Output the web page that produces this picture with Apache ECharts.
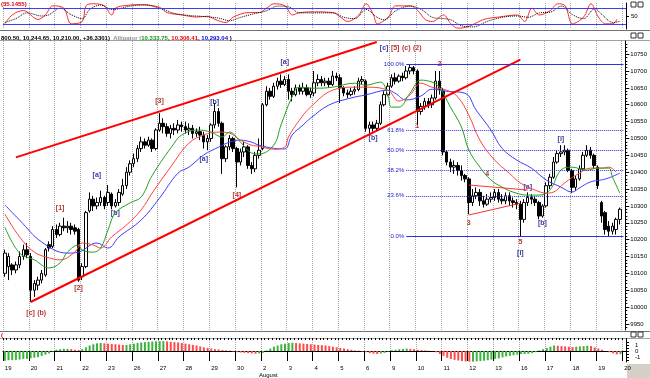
<!DOCTYPE html>
<html>
<head>
<meta charset="utf-8">
<script src="https://cdn.jsdelivr.net/npm/echarts@6/dist/echarts.min.js"></script>
<style>html,body{margin:0;padding:0;background:#fff}#main{width:650px;height:378px}</style>
</head>
<body>
<div id="main"></div>
<script type="text/javascript">
var myChart = echarts.init(document.getElementById('main'));

// trading days (7 hourly bars each), last one has no data yet
var days = ['19','20','21','22','23','26','27','28','29','30','2','3','4','5','6','9','10','11','12','13','16','17','18','19','20'];
var BARS = 7;

// hourly OHLC, one row per day
var open = [
  10100,10120,10125,10110,10125,10150,10170, 10150,10050,10065,10080,10095,10185,10180,
  10230,10215,10240,10235,10240,10235,10230, 10090,10120,10285,10320,10300,10310,10325,
  10310,10335,10300,10310,10335,10360,10400, 10425,10440,10470,10490,10480,10495,10470,
  10525,10545,10535,10515,10530,10525,10540, 10535,10525,10530,10515,10520,10510,10490,
  10500,10540,10580,10545,10440,10475,10500, 10470,10430,10460,10475,10420,10410,10450,
  10470,10600,10640,10625,10655,10670,10660, 10675,10640,10630,10650,10640,10650,10630,
  10635,10665,10675,10665,10670,10660,10685, 10680,10650,10635,10630,10640,10645,10670,
  10670,10530,10540,10530,10545,10600,10630, 10655,10680,10670,10685,10680,10700,10710,
  10700,10580,10595,10610,10600,10620,10670, 10640,10460,10430,10415,10420,10405,10390,
  10380,10310,10330,10340,10315,10305,10320, 10325,10340,10320,10315,10330,10315,10310,
  10305,10260,10310,10325,10320,10310,10270, 10300,10360,10385,10430,10455,10460,10465,
  10405,10355,10380,10410,10450,10465,10450, 10415,10310,10280,10240,10225,10230,10260
];
var close = [
  10160,10150,10110,10125,10150,10170,10155, 10050,10070,10080,10100,10170,10175,10230,
  10215,10240,10235,10240,10230,10225,10080, 10120,10280,10320,10300,10310,10325,10300,
  10340,10300,10310,10340,10360,10400,10425, 10440,10470,10490,10480,10495,10470,10525,
  10545,10535,10515,10530,10525,10540,10535, 10525,10530,10515,10520,10510,10490,10500,
  10540,10580,10545,10440,10475,10500,10470, 10430,10460,10475,10420,10410,10450,10465,
  10600,10640,10625,10655,10670,10660,10675, 10640,10630,10650,10640,10650,10630,10640,
  10665,10675,10665,10670,10660,10685,10680, 10650,10635,10630,10640,10645,10670,10675,
  10530,10540,10530,10545,10600,10630,10655, 10680,10670,10685,10680,10700,10710,10700,
  10580,10595,10610,10600,10620,10670,10645, 10460,10430,10415,10420,10405,10390,10380,
  10310,10330,10340,10315,10305,10320,10325, 10340,10320,10315,10330,10315,10310,10305,
  10260,10310,10325,10320,10310,10270,10300, 10360,10385,10430,10455,10460,10465,10405,
  10355,10380,10410,10450,10465,10450,10420, 10360,10270,10230,10225,10240,10260,10290
];
var low = [
  10090,10080,10095,10100,10115,10140,10145, 10015,10030,10050,10070,10090,10165,10175,
  10205,10210,10225,10220,10215,10215,10075, 10080,10115,10280,10285,10290,10300,10290,
  10300,10290,10295,10300,10330,10350,10390, 10415,10430,10460,10470,10475,10460,10465,
  10520,10515,10505,10500,10510,10515,10520, 10515,10510,10500,10505,10495,10470,10465,
  10490,10530,10535,10395,10430,10465,10460, 10355,10420,10445,10410,10395,10400,10440,
  10465,10595,10615,10620,10645,10650,10655, 10615,10610,10625,10630,10630,10625,10620,
  10625,10655,10655,10655,10650,10655,10670, 10605,10625,10620,10625,10630,10640,10660,
  10520,10515,10520,10525,10540,10595,10625, 10650,10660,10665,10670,10675,10690,10690,
  10540,10570,10585,10590,10590,10615,10630, 10450,10420,10400,10395,10390,10375,10370,
  10275,10300,10320,10300,10295,10300,10310, 10315,10310,10305,10305,10300,10295,10290,
  10210,10250,10300,10305,10300,10260,10265, 10295,10350,10380,10425,10445,10450,10400,
  10338,10345,10375,10405,10445,10440,10410, 10350,10250,10215,10210,10215,10215,10245
];
var high = [
  10170,10160,10130,10135,10165,10185,10190, 10160,10080,10090,10110,10175,10195,10240,
  10245,10250,10265,10255,10250,10245,10235, 10130,10285,10340,10330,10325,10345,10330,
  10362,10340,10320,10350,10380,10415,10435, 10455,10480,10505,10500,10505,10500,10530,
  10575,10560,10545,10540,10545,10555,10550, 10550,10545,10540,10530,10535,10520,10510,
  10545,10605,10590,10550,10480,10510,10505, 10475,10470,10490,10480,10430,10460,10500,
  10605,10655,10650,10665,10680,10690,10685, 10690,10650,10660,10660,10665,10660,10650,
  10700,10690,10685,10680,10680,10700,10695, 10690,10655,10645,10650,10655,10680,10685,
  10675,10550,10550,10555,10610,10640,10665, 10690,10695,10690,10695,10715,10720,10715,
  10705,10605,10620,10620,10630,10700,10700, 10650,10465,10440,10435,10430,10420,10395,
  10385,10350,10355,10350,10330,10335,10340, 10350,10350,10335,10340,10340,10325,10320,
  10315,10320,10340,10335,10330,10315,10305, 10370,10395,10445,10465,10480,10480,10470,
  10410,10390,10420,10460,10480,10475,10455, 10420,10315,10285,10255,10250,10265,10295
];

// Alligator lines, read at the bar index given in the *At arrays
var jawAt = [0,4,10,17,20,25,28,31,37,42,47,50,54,58,61,64,67,69,73,76,78,81,83,88,94,98,104,106,109,113,116,120,125,128,132,135,139,143,147,151,154,156,159,162,164,167];
var jaw = [10303,10258,10193,10160,10163,10190,10175,10208,10258,10323,10397,10415,10451,10474,10489,10495,10489,10480,10471,10469,10510,10540,10560,10599,10620,10629,10643,10634,10614,10626,10646,10640,10634,10584,10525,10471,10436,10412,10377,10356,10341,10353,10371,10377,10383,10397];
var teethAt = [0,4,8,12,15,19,21,24,26,29,33,37,40,45,50,54,58,61,64,67,69,73,76,77,80,83,89,95,98,104,107,110,113,116,120,123,126,129,133,137,140,144,147,149,152,156,159,162,164,166];
var teeth = [10276,10208,10163,10146,10140,10163,10190,10184,10175,10208,10243,10288,10338,10415,10486,10510,10519,10516,10495,10480,10477,10468,10474,10504,10554,10593,10643,10652,10652,10643,10611,10629,10664,10652,10643,10623,10569,10495,10436,10397,10368,10347,10338,10341,10368,10397,10412,10412,10415,10400];
var lipsAt = [0,4,8,12,15,17,20,21,24,26,28,30,34,37,40,46,48,52,56,59,61,64,67,69,73,75,78,80,84,89,95,98,102,104,105,107,110,113,116,118,121,124,126,129,132,135,138,142,145,148,151,154,158,161,164,165,167];
var lips = [10237,10160,10140,10116,10131,10163,10184,10169,10163,10175,10228,10279,10309,10326,10390,10486,10510,10525,10519,10504,10519,10489,10457,10454,10480,10540,10623,10652,10649,10652,10664,10658,10667,10629,10593,10593,10634,10673,10667,10652,10593,10534,10466,10415,10377,10356,10341,10332,10332,10347,10406,10415,10406,10412,10412,10386,10338];

// stochastic (top panel)
var kAt = [0,2,5,9,11,13,16,18,21,22,24,27,29,30,32,37,42,44,48,52,55,57,60,62,66,69,71,73,76,78,80,84,89,91,93,96,98,100,101,104,106,110,112,114,116,119,121,123,126,130,134,139,141,143,145,148,150,152,154,157,159,161,163,165,166];
var kVal = [20,54,71,37,54,89,80,20,29,89,97,89,54,80,89,94,83,63,54,46,49,37,25,46,63,63,80,97,89,54,63,66,63,46,29,54,97,54,20,46,89,89,71,37,29,54,20,3,11,37,46,54,29,80,54,71,97,89,20,46,97,46,20,20,37];
var dAt = [0,3,6,10,12,15,18,21,23,26,29,31,34,38,43,46,50,54,58,61,64,68,71,74,77,80,84,89,92,95,98,101,103,106,110,113,116,119,121,124,127,131,135,139,142,145,148,151,154,157,160,162,165,167];
var dVal = [25,40,62,50,55,80,55,40,75,92,75,78,88,92,75,60,52,48,42,32,45,60,70,88,85,62,62,62,45,40,75,45,35,70,88,75,45,40,35,12,8,30,45,50,45,62,65,88,55,40,78,55,25,30];

// awesome oscillator (bottom panel), one value per bar
var ao = [
  -1.6,-1.5,-1.5,-1.45,-1.4,-1.3,-1.3,-1.2,-1.1,-1.0,-0.8,-0.6,-0.4,
  -0.1,0.2,0.3,0.35,0.35,0.3,0.2,0.15,
  0.3,0.6,0.9,1.1,1.25,1.3,
  1.25,1.2,1.15,1.1,1.05,1.0,1.0,
  1.1,1.2,1.3,1.4,1.45,1.5,1.55,1.6,1.6,1.6,1.55,
  1.5,1.45,1.4,1.3,1.2,1.1,
  1.0,0.9,0.75,0.6,0.5,0.4,0.3,0.25,
  0.15,0.1,0.05,-0.1,-0.2,-0.25,
  -0.3,-0.35,-0.4,-0.45,-0.4,-0.3,
  0.1,0.4,0.7,0.9,1.1,1.2,1.3,1.35,
  1.3,1.25,1.2,1.15,1.1,1.05,1.0,0.95,0.9,0.8,0.7,0.6,
  0.5,0.4,0.3,0.2,0.1,0.05,
  -0.1,-0.2,-0.35,-0.45,-0.5,-0.4,-0.3,
  -0.1,0.1,0.2,0.3,0.35,0.4,0.35,
  0.3,0.2,0.15,0.1,0.05,0.0,
  -0.2,-0.5,-0.8,-1.1,-1.3,
  -1.45,-1.55,-1.65,-1.7,-1.75,-1.75,-1.7,
  -1.65,-1.6,-1.5,-1.4,-1.3,-1.2,-1.05,-0.9,-0.8,-0.7,
  -0.6,-0.5,-0.5,-0.45,-0.35,
  -0.2,0.1,0.3,0.5,0.7,0.9,
  0.85,0.8,0.75,0.7,0.65,
  0.7,0.75,0.8,0.85,0.8,
  0.6,0.4,0.2,0.0,-0.2,-0.4,-0.55,-0.5
];

// fibonacci retracement of the Aug 9 high / Aug 16 low
var fibLabels = ['100.0%','61.8%','50.0%','38.2%','23.6%','0.0%'];
var fibPrices = [10720,10525,10465,10405,10330,10210];

// wave labels
var redText = ['[c]','(b)','[1]','[2]','[3]','[4]','[5]','(c)','(2)','1','2','3','4','5'];
var redAt = [7,10,15,20,42,63,106,109,112,112,118,126,131,140];
var redPrice = [9982,9982,10294,10057,10611,10332,10768,10768,10768,10537,10720,10249,10394,10193];
var blueText = ['[a]','[b]','[a]','[b]','[a]','[b]','[c]','[i]','[a]','[b]','[i]'];
var blueAt = [25,30,54,57,76,100,103,140,142,146,151];
var bluePrice = [10391,10279,10439,10608,10726,10501,10768,10160,10356,10249,10498];

var priceTicks = [];
for (var p = 9950; p <= 10750; p += 50) priceTicks.push(p);
var priceMinor = [];
for (var q = 9940; q <= 10780; q += 10) priceMinor.push(q);

var categories = [];
days.forEach(function (d, i) {
  var n = i < days.length - 1 ? BARS : 1;
  for (var h = 0; h < n; h++) categories.push(i + ':' + h);
});
var candles = open.map(function (o, i) { return [o, close[i], low[i], high[i]]; });
function pairs(at, v) { return at.map(function (x, i) { return [x, v[i]]; }); }
function notes(txt, at, pr) { return txt.map(function (t, i) { return { name: t, value: [at[i], pr[i]] }; }); }
function dayStart(index, value) { return String(value).split(':')[1] === '0'; }
function plain(v) { return String(v); }

var FONT = 'Liberation Sans';
var redLine = { color: '#ff0000', width: 2, type: 'solid' };
var thinRed = { color: '#ff3030', width: 1, type: 'solid' };
var fibLines = fibLabels.map(function (t, i) {
  var solid = i === 0 || i === fibLabels.length - 1;
  return [{
    coord: [109, fibPrices[i]],
    lineStyle: { color: '#3030e0', width: 1, type: solid ? 'solid' : 'dotted' },
    label: { show: true, position: 'start', formatter: t, color: '#2020d0', fontSize: 6, fontFamily: FONT, distance: 2 }
  }, { coord: [168, fibPrices[i]] }];
});

function xAxisFor(grid) {
  return {
    type: 'category', gridIndex: grid, data: categories, boundaryGap: true,
    axisLine: { show: false }, axisTick: { show: false }, axisLabel: { show: false },
    splitLine: { show: true, interval: dayStart, lineStyle: { color: '#a8a8a8', type: 'dotted', width: 1 } }
  };
}
var bottomAxis = xAxisFor(2);
bottomAxis.axisLine = { show: true, lineStyle: { color: '#000', width: 1 } };
bottomAxis.axisTick = { show: true, interval: dayStart, length: 10, lineStyle: { color: '#000' } };
bottomAxis.axisLabel = {
  show: true, interval: dayStart, align: 'left', margin: 3, fontSize: 6, fontFamily: FONT, color: '#000',
  formatter: function (v) {
    var i = +String(v).split(':')[0];
    return i === 10 ? days[i] + '\n{m|August}' : days[i];
  },
  rich: { m: { fontSize: 6, fontFamily: FONT, color: '#000', padding: [1, 0, 0, -4] } }
};
var minorAxis = {
  type: 'category', gridIndex: 2, data: categories, boundaryGap: true,
  axisLine: { show: false }, axisLabel: { show: false }, splitLine: { show: false },
  axisTick: { show: true, interval: 0, length: 2, lineStyle: { color: '#000' } }
};

var option = {
  animation: false,
  backgroundColor: '#fff',
  grid: [
    { left: 3, right: 24, top: 3, height: 26 },
    { left: 3, right: 24, top: 41, height: 289 },
    { left: 3, right: 24, top: 340, height: 22 }
  ],
  xAxis: [xAxisFor(0), xAxisFor(1), bottomAxis, minorAxis],
  yAxis: [
    { type: 'value', gridIndex: 0, position: 'right', min: 0, max: 100,
      axisLine: { show: true, lineStyle: { color: '#000' } },
      axisTick: { show: true, length: 3, customValues: [50] },
      axisLabel: { customValues: [50], formatter: plain, fontSize: 6, fontFamily: FONT, color: '#000', margin: 5 },
      splitLine: { show: false } },
    { type: 'value', gridIndex: 1, position: 'right', min: 9932, max: 10789,
      axisLine: { show: true, lineStyle: { color: '#000' } },
      axisTick: { show: true, length: 4, customValues: priceTicks, lineStyle: { color: '#000' } },
      axisLabel: { customValues: priceTicks, formatter: plain, fontSize: 6, fontFamily: FONT, color: '#000', margin: 5 },
      splitLine: { show: false } },
    { type: 'value', gridIndex: 1, position: 'right', min: 9932, max: 10789,
      axisLine: { show: false }, axisLabel: { show: false }, splitLine: { show: false },
      axisTick: { show: true, length: 2, customValues: priceMinor, lineStyle: { color: '#000' } } },
    { type: 'value', gridIndex: 2, position: 'right', min: -1.8, max: 1.8,
      axisLine: { show: true, lineStyle: { color: '#000' } },
      axisTick: { show: true, length: 3, customValues: [-1.5, -1, -0.5, 0, 0.5, 1, 1.5], lineStyle: { color: '#000' } },
      axisLabel: { customValues: [-1, 0, 1], formatter: plain, fontSize: 6, fontFamily: FONT, color: '#000', margin: 9 },
      splitLine: { show: false } }
  ],
  series: [
    { type: 'line', xAxisIndex: 0, yAxisIndex: 0, data: pairs(kAt, kVal), smooth: 0.35, showSymbol: false,
      lineStyle: { color: '#ff2a2a', width: 1 },
      markLine: { silent: true, symbol: ['none', 'none'], label: { show: false },
        lineStyle: { color: '#3c3cff', width: 1, type: 'solid' }, data: [{ yAxis: 80 }, { yAxis: 20 }] } },
    { type: 'line', xAxisIndex: 0, yAxisIndex: 0, data: pairs(dAt, dVal), smooth: 0.35, showSymbol: false,
      lineStyle: { color: '#000', width: 1, type: 'dotted' } },
    { type: 'line', xAxisIndex: 1, yAxisIndex: 1, data: pairs(jawAt, jaw), smooth: 0.4, showSymbol: false,
      lineStyle: { color: '#3c3cff', width: 1 } },
    { type: 'line', xAxisIndex: 1, yAxisIndex: 1, data: pairs(teethAt, teeth), smooth: 0.4, showSymbol: false,
      lineStyle: { color: '#ff4040', width: 1 } },
    { type: 'line', xAxisIndex: 1, yAxisIndex: 1, data: pairs(lipsAt, lips), smooth: 0.4, showSymbol: false,
      lineStyle: { color: '#22a022', width: 1 } },
    { type: 'candlestick', xAxisIndex: 1, yAxisIndex: 1, data: candles, barWidth: 3,
      itemStyle: { color: '#fff', color0: '#000', borderColor: '#000', borderColor0: '#000', borderWidth: 1 },
      markLine: {
        silent: true, symbol: ['none', 'none'], label: { show: false },
        data: [
          [{ coord: [3, 10444], lineStyle: redLine }, { coord: [101, 10786] }],
          [{ coord: [7, 10015], lineStyle: redLine }, { coord: [140, 10734] }],
          [{ coord: [126, 10362], lineStyle: thinRed }, { coord: [142, 10347] }],
          [{ coord: [126, 10273], lineStyle: thinRed }, { coord: [140, 10308] }]
        ].concat(fibLines)
      } },
    { type: 'scatter', xAxisIndex: 1, yAxisIndex: 1, data: notes(redText, redAt, redPrice), symbolSize: 0, silent: true,
      label: { show: true, position: 'inside', formatter: '{b}', color: '#a00000', fontSize: 7, fontWeight: 'bold', fontFamily: FONT } },
    { type: 'scatter', xAxisIndex: 1, yAxisIndex: 1, data: notes(blueText, blueAt, bluePrice), symbolSize: 0, silent: true,
      label: { show: true, position: 'inside', formatter: '{b}', color: '#000080', fontSize: 7, fontWeight: 'bold', fontFamily: FONT } },
    { type: 'bar', xAxisIndex: 2, yAxisIndex: 3, data: ao, barWidth: 2,
      itemStyle: { color: function (p) {
        var i = p.dataIndex;
        return (i === 0 || ao[i] >= ao[i - 1]) ? '#3cb43c' : '#ff4a4a';
      } } }
  ],
  graphic: [
    { type: 'rect', shape: { x: 0, y: 30, width: 650, height: 1 }, style: { fill: '#707070' } },
    { type: 'rect', shape: { x: 0, y: 40, width: 650, height: 1 }, style: { fill: '#a0a0a0' } },
    { type: 'rect', shape: { x: 0, y: 331, width: 650, height: 1 }, style: { fill: '#707070' } },
    { type: 'rect', shape: { x: 0, y: 338, width: 650, height: 1 }, style: { fill: '#a0a0a0' } },
    { type: 'rect', shape: { x: 627, y: 364, width: 23, height: 14 }, style: { fill: '#d4d0c8' } },
    { type: 'text', x: 1, y: 1, style: { text: '(35.1455)', fill: '#e00000', font: 'bold 6px ' + FONT } },
    { type: 'text', x: 1, y: 32, style: {
        text: '{k|800.50, 10,244.65, 10,210.00, +36.3301)} {a|Alligator (}{g|10,333.75}{k|, }{r|10,306.41}{k|, }{b|10,293.04}{k| )}',
        rich: {
          k: { fill: '#000', font: 'bold 6px ' + FONT },
          a: { fill: '#909090', font: 'bold 6px ' + FONT },
          g: { fill: '#109910', font: 'bold 6px ' + FONT },
          r: { fill: '#ee0000', font: 'bold 6px ' + FONT },
          b: { fill: '#0000dd', font: 'bold 6px ' + FONT }
        } } },
    { type: 'text', x: 1, y: 332, style: { text: '(', fill: '#e00000', font: 'bold 6px ' + FONT } },
    { type: 'rect', shape: { x: 631, y: 2, width: 5, height: 5 }, style: { fill: '#fff', stroke: '#333' } },
    { type: 'rect', shape: { x: 638, y: 2, width: 5, height: 5 }, style: { fill: '#fff', stroke: '#333' } },
    { type: 'rect', shape: { x: 631, y: 33, width: 5, height: 5 }, style: { fill: '#fff', stroke: '#333' } },
    { type: 'rect', shape: { x: 638, y: 33, width: 5, height: 5 }, style: { fill: '#fff', stroke: '#333' } },
    { type: 'rect', shape: { x: 631, y: 332, width: 5, height: 5 }, style: { fill: '#fff', stroke: '#333' } },
    { type: 'rect', shape: { x: 638, y: 332, width: 5, height: 5 }, style: { fill: '#fff', stroke: '#333' } }
  ]
};
myChart.setOption(option);
</script>
</body>
</html>
